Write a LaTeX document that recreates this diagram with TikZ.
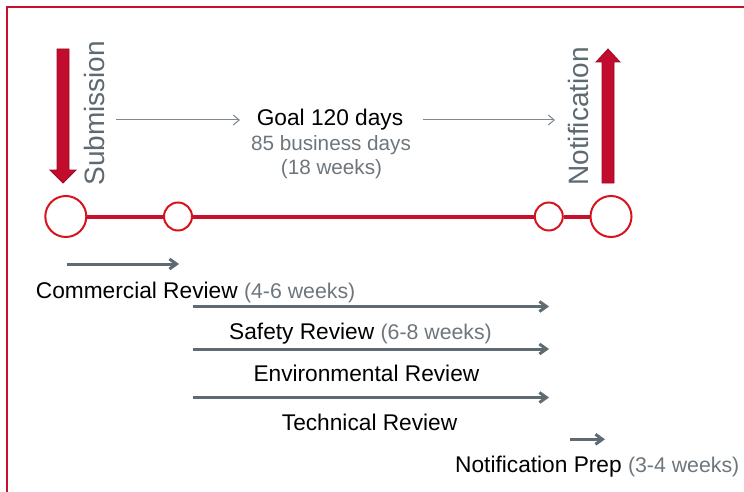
\documentclass[tikz,border=0pt]{standalone}
\usepackage{fontspec}
\setmainfont{Liberation Sans}
\usetikzlibrary{arrows.meta}
\definecolor{frame}{HTML}{C8102E}
\definecolor{bigred}{HTML}{C20C2E}
\definecolor{bigreddark}{HTML}{9C0A26}
\definecolor{circred}{HTML}{D6141E}
\definecolor{vtext}{HTML}{5E6A72}
\definecolor{thin}{HTML}{7F888F}
\definecolor{thick}{HTML}{5F6A72}
\definecolor{subtext}{HTML}{6D767D}
\tikzset{
  bigarrow/.style={fill=bigred, draw=bigreddark, line width=0.8pt, line join=miter},
  vlabel/.style={text=vtext, font=\fontsize{28}{32}\selectfont, rotate=90, anchor=base, inner sep=0pt},
  bigcirc/.style={circle, draw=circred, line width=2pt, fill=white, minimum size=41pt, inner sep=0pt},
  smallcirc/.style={circle, draw=circred, line width=2pt, fill=white, minimum size=28pt, inner sep=0pt},
  timeline/.style={draw=frame, line width=4pt},
  thinarrow/.style={draw=thin, line width=1pt, -{Straight Barb[length=6pt,width=10pt]}},
  thickarrow/.style={draw=thick, line width=3pt, -{Straight Barb[length=7pt,width=10pt]}},
  mainlabel/.style={font=\fontsize{22.7}{26}\selectfont, text=black, inner sep=0pt, anchor=base west},
  goallabel/.style={font=\fontsize{22.7}{26}\selectfont, text=black, inner sep=0pt, anchor=base},
  sublabel/.style={font=\fontsize{20.7}{24}\selectfont, text=subtext, inner sep=0pt, anchor=base},
}
\newcommand{\subtxt}[1]{{\fontsize{21.3}{24}\selectfont\color{subtext}#1}}
\begin{document}
\begin{tikzpicture}[x=1pt,y=-1pt]
\useasboundingbox (0,0) rectangle (744,492);
% frame
\draw[draw=frame, line width=2pt] (746,7.5) -- (6.8,7.5) -- (6.8,494);
% big red arrows
\draw[bigarrow] (57,49) -- (69,49) -- (69,170) -- (76,170) -- (63,183) -- (50,170) -- (57,170) -- cycle;
\draw[bigarrow] (602,183) -- (614,183) -- (614,62) -- (620,62) -- (608,49) -- (596,62) -- (602,62) -- cycle;
% vertical labels
\node[vlabel] (sub) at (104.5,113.3) {Submission};
\node[vlabel] (notif) at (588,116.5) {Notification};
% goal
\node[goallabel] (goal) at (330,125) {Goal 120 days};
\node[sublabel] (bdays) at (331,150) {85 business days};
\node[sublabel] (weeks) at (331.5,174) {(18 weeks)};
\coordinate (ga1) at (116,120);
\coordinate (ga2) at (240,120);
\coordinate (gb1) at (423,120);
\coordinate (gb2) at (555,120);
\draw[thinarrow] (ga1) -- (ga2);
\draw[thinarrow] (gb1) -- (gb2);
% timeline
\node[bigcirc] (c1) at (65.8,216.5) {};
\node[smallcirc] (c2) at (178,216.5) {};
\node[smallcirc] (c3) at (548.8,216.5) {};
\node[bigcirc] (c4) at (611,216.5) {};
\draw[timeline] (c1) -- (c2);
\draw[timeline] (c2) -- (c3);
\draw[timeline] (c3) -- (c4);
% review arrows
\coordinate (r1a) at (67,264); \coordinate (r1b) at (179,264);
\coordinate (r2a) at (192.5,306.5); \coordinate (r2b) at (549,306.5);
\coordinate (r3a) at (192.5,349); \coordinate (r3b) at (549,349);
\coordinate (r4a) at (192.5,397.5); \coordinate (r4b) at (549,397.5);
\coordinate (r5a) at (570,439.3); \coordinate (r5b) at (605,439.3);
\draw[thickarrow] (r1a) -- (r1b);
\draw[thickarrow] (r2a) -- (r2b);
\draw[thickarrow] (r3a) -- (r3b);
\draw[thickarrow] (r4a) -- (r4b);
\draw[thickarrow] (r5a) -- (r5b);
% review labels
\node[mainlabel] (comm) at (35.7,298) {Commercial Review \subtxt{(4-6 weeks)}};
\node[mainlabel] (safe) at (229,339.5) {Safety Review \subtxt{(6-8 weeks)}};
\node[mainlabel] (env) at (253.3,381.5) {Environmental Review};
\node[mainlabel] (tech) at (281.7,430) {Technical Review};
\node[mainlabel] (prep) at (455,472) {Notification Prep \subtxt{(3-4 weeks)}};
\end{tikzpicture}
\end{document}
